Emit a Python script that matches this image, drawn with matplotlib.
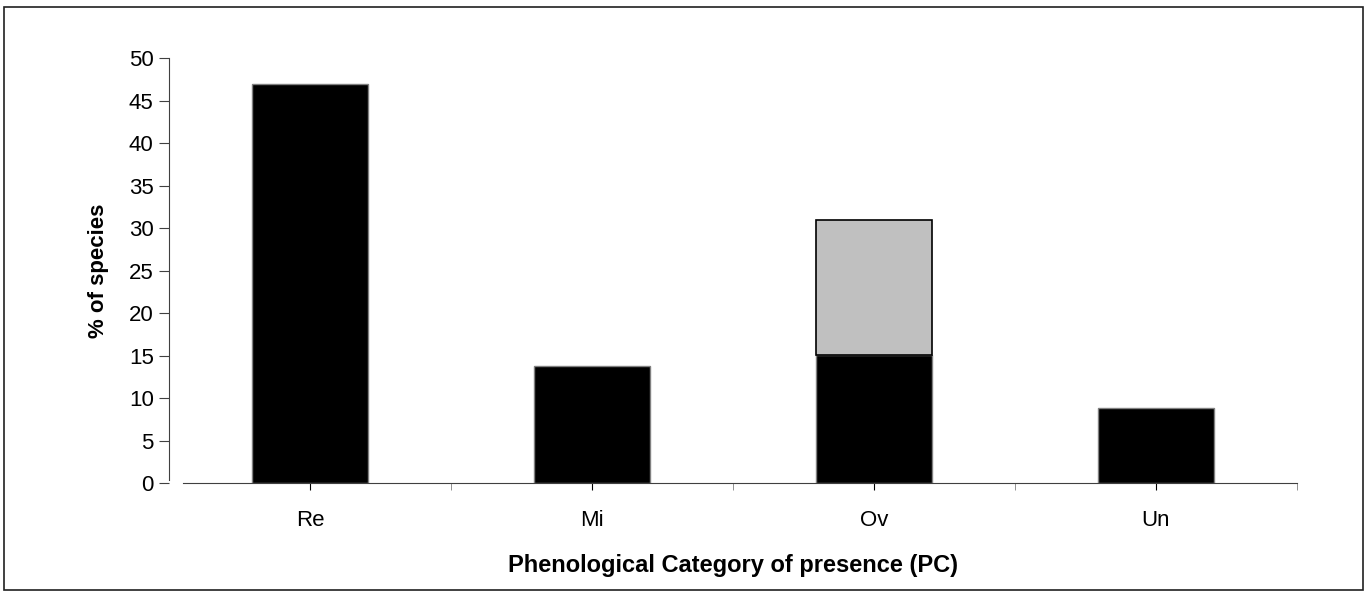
import matplotlib.pyplot as plt
from matplotlib.patches import Rectangle

# Data
categories = ["Re", "Mi", "Ov", "Un"]
black_part = [46.9, 13.8, 15.1, 8.8]
gray_part = [0, 0, 15.9, 0]

plt.rcParams['font.family'] = ['Liberation Sans', 'DejaVu Sans']

fig = plt.figure(figsize=(13.68, 5.96), dpi=100)
ax = fig.add_axes([0.1235, 0.1891, 0.8246, 0.7136])

x = list(range(len(categories)))
ax.bar(x, black_part, width=0.41, color="black", edgecolor="#808080", linewidth=1)
ax.bar(x, gray_part, width=0.41, bottom=black_part, color="#c0c0c0",
       edgecolor=["none", "none", "black", "none"], linewidth=1.2)

ax.set_xlim(-0.5, 3.5)
ax.set_ylim(0, 50)
ax.set_yticks(range(0, 51, 5))
ax.set_xticks(x)
ax.set_xticklabels(categories)
ax.set_xticks([0.5, 1.5, 2.5, 3.5], minor=True)

ax.spines["top"].set_visible(False)
ax.spines["right"].set_visible(False)
ax.spines["left"].set_bounds(0.4, 50)
ax.spines["bottom"].set_bounds(-0.45, 3.5)
ax.spines["left"].set_color("#404040")
ax.spines["bottom"].set_color("#404040")

ax.tick_params(axis="y", direction="out", length=7, color="#404040", labelsize=16, pad=4)
ax.tick_params(axis="x", which="major", direction="out", length=5, color="black", labelsize=16, pad=14)
ax.tick_params(axis="x", which="minor", direction="out", length=5, color="#808080")

ax.set_ylabel("% of species", fontsize=16, fontweight="bold", labelpad=14)
ax.set_xlabel("Phenological Category of presence (PC)", fontsize=17, fontweight="bold", labelpad=17)

# outer frame around the figure
fig.patches.append(Rectangle((0.003, 0.01), 0.993, 0.978, transform=fig.transFigure,
                             fill=False, edgecolor="#202020", linewidth=1.2))

fig.savefig("out.png", dpi=100)
